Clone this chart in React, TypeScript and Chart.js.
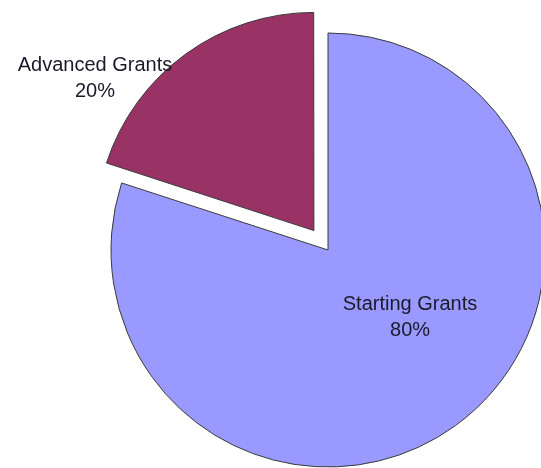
import React, { useEffect, useRef } from "react";
import { Chart, registerables } from "chart.js";

Chart.register(...registerables);

const categories = ["Starting Grants", "Advanced Grants"];
const shares = [80, 20];
const percentLabels = ["80%", "20%"];
const sliceColors = ["#9999FF", "#993366"];
const explode = [0, 96];

const labelPlugin = {
  id: "sliceLabels",
  afterDatasetsDraw(chart: any, _args: any, opts: any) {
    const ctx = chart.ctx;
    const meta = chart.getDatasetMeta(0);
    const cats = chart.data.labels as string[];
    ctx.save();
    ctx.font = "20px 'Liberation Sans', Arial, sans-serif";
    ctx.fillStyle = "#1a1a2a";
    ctx.textAlign = "center";
    ctx.textBaseline = "middle";
    meta.data.forEach((arc: any, i: number) => {
      const r = arc.outerRadius;
      const [fx, fy] = opts.anchors[i];
      const x = arc.x + fx * r;
      const y = arc.y + fy * r;
      ctx.fillText(cats[i], x, y - 13);
      ctx.fillText(percentLabels[i], x, y + 13);
    });
    ctx.restore();
  },
};

export default function App() {
  const ref = useRef<HTMLCanvasElement | null>(null);
  useEffect(() => {
    if (!ref.current) return;
    const chart = new Chart(ref.current, {
      type: "pie",
      data: {
        labels: categories,
        datasets: [
          {
            data: shares,
            backgroundColor: sliceColors,
            borderColor: "#3a3a3a",
            borderWidth: 1,
            offset: explode,
            clip: false as any,
          },
        ],
      },
      options: {
        responsive: false,
        animation: false,
        radius: 217,
        layout: { padding: { left: 115, top: 32, right: 0, bottom: 0 } },
        plugins: {
          legend: { display: false },
          tooltip: { enabled: false },
          sliceLabels: { anchors: [[0.378, 0.31], [-1.074, -0.792]] },
        } as any,
      },
      plugins: [labelPlugin],
    });
    return () => chart.destroy();
  }, []);
  return (
    <div style={{ position: "absolute", left: 0, top: 0, width: 541, height: 468 }}>
      <canvas ref={ref} width={541} height={468} style={{ display: "block" }} />
    </div>
  );
}
